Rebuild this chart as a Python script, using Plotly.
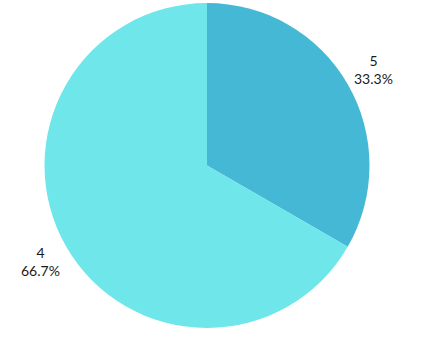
import math
import plotly.graph_objects as go

labels = ["5", "4"]
values = [1, 2]
colors = ["#45B8D5", "#6EE6EA"]

W, H = 428, 340
ML, MR, MT, MB = 44, 58, 3, 12
pw, ph = W - ML - MR, H - MT - MB
radius = min(pw, ph) / 2
label_r = radius * 1.185

fig = go.Figure(go.Pie(
    labels=labels,
    values=values,
    sort=False,
    direction="clockwise",
    rotation=0,
    marker=dict(colors=colors, line=dict(width=0)),
    textinfo="none",
    showlegend=False,
    hoverinfo="label+percent",
))

total = sum(values)
cum = 0
for lab, v in zip(labels, values):
    mid = 2 * math.pi * (cum + v / 2) / total
    cum += v
    x = 0.5 + label_r * math.sin(mid) / pw
    y = 0.5 + label_r * math.cos(mid) / ph
    fig.add_annotation(
        x=x, y=y, xref="paper", yref="paper",
        xanchor="center", yanchor="middle",
        text=f"{lab}<br>{100 * v / total:.1f}%",
        showarrow=False,
        font=dict(family="Lato", size=14, color="#1a1a1a"),
    )

fig.update_layout(
    width=W, height=H,
    margin=dict(l=ML, r=MR, t=MT, b=MB),
    paper_bgcolor="white",
    plot_bgcolor="white",
)
fig.write_html("out.html")
